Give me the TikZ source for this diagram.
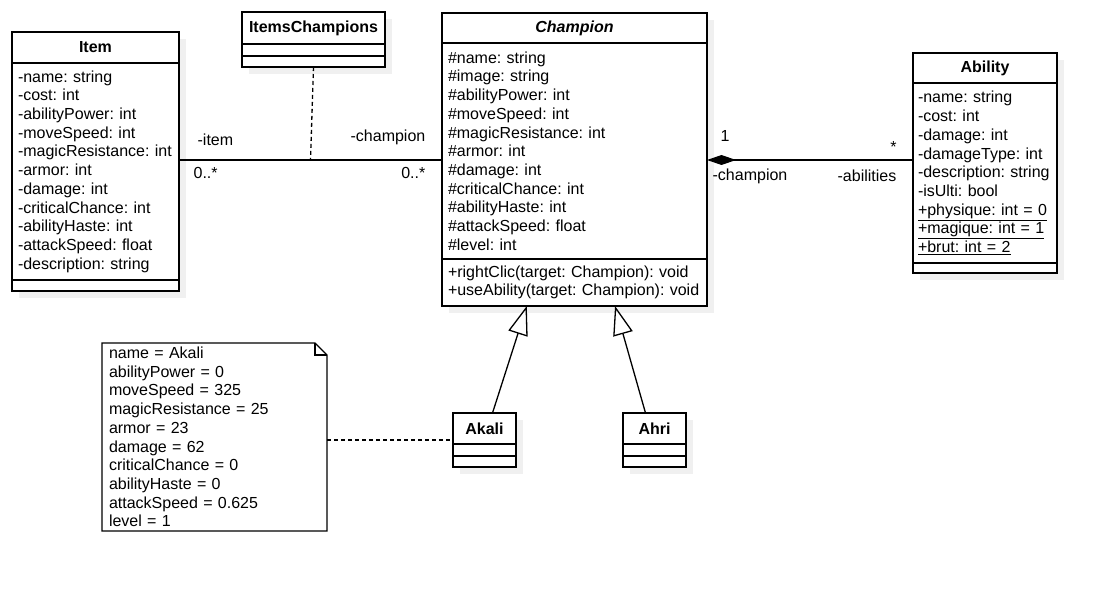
\documentclass[tikz,border=0pt]{standalone}
\usepackage{fontspec}
\setmainfont{Liberation Sans}
\usetikzlibrary{arrows.meta}
\usetikzlibrary{positioning, calc, shadows}

\begin{document}
\begin{tikzpicture}[
        x=1pt, y=-1pt,
        line width=1.3pt,
        font=\fontsize{16}{18.7}\selectfont\frenchspacing,
        % 
        box/.style={
            draw,
            fill=white,
            inner sep=0pt,
            outer sep=0pt,
            general shadow={fill=black!6, shadow xshift=7pt, shadow yshift=-7pt},
        },
        head node/.style={box, anchor=north west, font=\fontsize{16}{18.7}\selectfont\bfseries},
        part node/.style={box, inner xsep=6pt, align=left},
        note node/.style={inner xsep=7pt, inner ysep=0pt, outer sep=0pt, align=left, anchor=north west},
        role/.style={inner sep=0pt},
        % 
        normal edge/.style={-},
        dash edge/.style={dash pattern=on 4pt off 3pt},
        comp edge/.style={{Diamond[length=29pt,width=10pt]}-},
        inherit edge/.style={-{Triangle[open,length=29pt,width=20pt]}}
        ]
        \path[use as bounding box, fill=white] (0,0) rectangle (1106,591);

        % Classes

        \node[head node, minimum width=167pt, minimum height=31pt] (item) at (12,32) {Item};
        \node[part node, text width=155pt, minimum height=217pt, below=0pt of item] (item-attr)
            {-name: string\\-cost: int\\-abilityPower: int\\-moveSpeed: int\\-magicResistance: int\\-armor: int\\-damage: int\\-criticalChance: int\\-abilityHaste: int\\-attackSpeed: float\\-description: string};
        \node[part node, minimum width=167pt, minimum height=11pt, below=0pt of item-attr] (item-ops) {};

        \node[head node, minimum width=143pt, minimum height=32pt] (ic) at (242,12) {ItemsChampions};
        \node[part node, minimum width=143pt, minimum height=12pt, below=0pt of ic] (ic-attr) {};
        \node[part node, minimum width=143pt, minimum height=11pt, below=0pt of ic-attr] (ic-ops) {};

        \node[head node, minimum width=265pt, minimum height=30pt, font=\fontsize{16}{18.7}\selectfont\bfseries\itshape] (champ) at (442,13) {Champion};
        \node[part node, text width=253pt, minimum height=216pt, below=0pt of champ] (champ-attr)
            {\#name: string\\\#image: string\\\#abilityPower: int\\\#moveSpeed: int\\\#magicResistance: int\\\#armor: int\\\#damage: int\\\#criticalChance: int\\\#abilityHaste: int\\\#attackSpeed: float\\\#level: int};
        \node[part node, text width=253pt, minimum height=47pt, below=0pt of champ-attr] (champ-ops)
            {+rightClic(target: Champion): void\\+useAbility(target: Champion): void};

        \node[head node, minimum width=144pt, minimum height=30pt] (ability) at (913,53) {Ability};
        \node[part node, inner xsep=5pt, text width=134pt, minimum height=180pt, below=0pt of ability] (ability-attr)
            {-name: string\\-cost: int\\-damage: int\\-damageType: int\\-description: string\\-isUlti: bool\\\underline{+physique: int = 0}\\\underline{+magique: int = 1}\\\underline{+brut: int = 2}};
        \node[part node, minimum width=144pt, minimum height=10pt, below=0pt of ability-attr] (ability-ops) {};

        \node[head node, minimum width=63pt, minimum height=31pt] (akali) at (453,413) {Akali};
        \node[part node, minimum width=63pt, minimum height=12pt, below=0pt of akali] (akali-attr) {};
        \node[part node, minimum width=63pt, minimum height=11pt, below=0pt of akali-attr] (akali-ops) {};

        \node[head node, minimum width=63pt, minimum height=31pt] (ahri) at (623,413) {Ahri};
        \node[part node, minimum width=63pt, minimum height=12pt, below=0pt of ahri] (ahri-attr) {};
        \node[part node, minimum width=63pt, minimum height=11pt, below=0pt of ahri-attr] (ahri-ops) {};

        % Note

        \node[note node, text width=211pt, minimum height=188pt] (note) at (102,343)
            {name = Akali\\abilityPower = 0\\moveSpeed = 325\\magicResistance = 25\\armor = 23\\damage = 62\\criticalChance = 0\\abilityHaste = 0\\attackSpeed = 0.625\\level = 1};
        \draw (note.north west) -- ($(note.north east)+(-12,0)$) -- ($(note.north east)+(0,12)$)
            -- (note.south east) -- (note.south west) -- cycle;
        \draw ($(note.north east)+(-12,0)$) -- ($(note.north east)+(-12,12)$) -- ($(note.north east)+(0,12)$);

        % Edges

        \coordinate (assocY) at (0,160);
        \coordinate (linkY) at (0,440);
        \draw[normal edge] (item-attr.east |- assocY) -- (champ-attr.west |- assocY);
        \coordinate (assocMid) at ($(item-attr.east |- assocY)!0.5!(champ-attr.west |- assocY)$);
        \draw[dash edge] (ic-ops.south) -- (assocMid);
        \node[role, anchor=west] (item-role) at (197,140) {-item};
        \node[role, anchor=west] (item-mult) at (193,173) {0..*};
        \node[role, anchor=east] (champ-role) at (426,137) {-champion};
        \node[role, anchor=east] (champ-mult) at (426,173) {0..*};
        %
        \draw[comp edge] (champ-attr.east |- assocY) -- (ability-attr.west |- assocY);
        \node[role, anchor=west] (owner-mult) at (720,136) {1};
        \node[role, anchor=west] (owner-role) at (712,176) {-champion};
        \node[role] (abil-mult) at (893.5,147) {*};
        \node[role, anchor=west] (abil-role) at (837,176) {-abilities};
        %
        \draw[inherit edge] ($(akali.north)+(8,0)$) -- ($(champ-ops.south west)!0.32!(champ-ops.south east)$);
        \draw[inherit edge] ($(ahri.north)+(-9,0)$) -- ($(champ-ops.south west)!0.653!(champ-ops.south east)$);
        %
        \draw[dash edge] (note.east |- linkY) -- (akali.west |- linkY);
    \end{tikzpicture}
\end{document}
